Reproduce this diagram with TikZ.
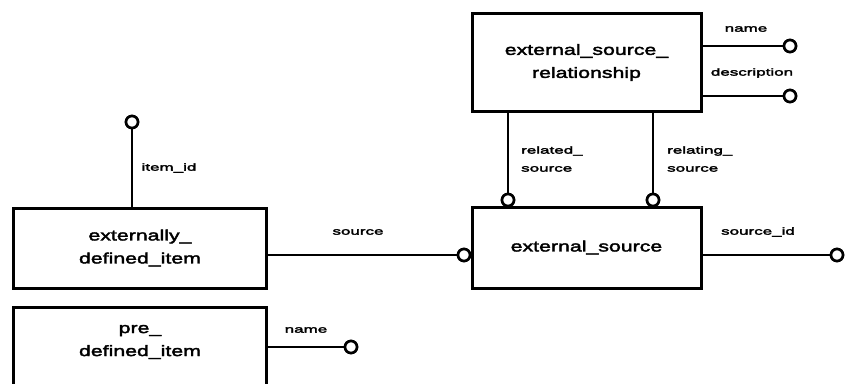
\documentclass[tikz,border=0pt]{standalone}
\usepackage{fontspec}
\setmainfont{Liberation Sans}
\newfontfamily\bxfont{Liberation Sans}[FakeStretch=1.42,FakeBold=2.5]
\newfontfamily\lbfont{Liberation Sans}[FakeStretch=1.7,FakeBold=3]
\begin{document}
\begin{tikzpicture}[x=1pt,y=-1pt,
  ent/.style={draw, line width=3pt, fill=white, inner sep=0pt, align=center,
    font=\bxfont\fontsize{15}{23}\selectfont},
  etext/.style={inner sep=0pt, align=center, font=\bxfont\fontsize{15}{23}\selectfont},
  conn/.style={line width=2.6pt},
  attr/.style={circle, draw, line width=2.6pt, fill=white, minimum size=12pt, inner sep=0pt},
  lbl/.style={inner sep=0pt, align=left, font=\lbfont\fontsize{10}{18}\selectfont}]
\clip (0,0) rectangle (845,383);
\fill[white] (0,0) rectangle (845,383);
% entities
\node[ent, minimum width=229pt, minimum height=98pt] (esr) at (586.5,62.5) {external\_source\_\\relationship};
\node[ent, minimum width=229pt, minimum height=81pt] (es) at (586.5,247.5) {external\_source};
\node[ent, minimum width=253pt, minimum height=80pt] (edi) at (140,248) {externally\_\\defined\_item};
\node[ent, minimum width=253pt, minimum height=110pt] (pdi) at (140,362) {};
\node[etext] (pdit) at (140,342) {pre\_\\defined\_item};
% attribute ends
\node[attr] (c1) at (790,46) {};
\node[attr] (c2) at (790,96) {};
\node[attr] (c3) at (508,200) {};
\node[attr] (c4) at (653,200) {};
\node[attr] (c5) at (837,255) {};
\node[attr] (c6) at (464,255) {};
\node[attr] (c7) at (132,122) {};
\node[attr] (c8) at (351,347) {};
% connectors
\draw[conn] (esr.east |- c1) -- (c1.west);
\draw[conn] (esr.east |- c2) -- (c2.west);
\draw[conn] (esr.south -| c3) -- (c3.north);
\draw[conn] (esr.south -| c4) -- (c4.north);
\draw[conn] (es.east |- c5) -- (c5.west);
\draw[conn] (edi.east |- c6) -- (c6.west);
\draw[conn] (edi.north -| c7) -- (c7.south);
\draw[conn] (pdi.east |- c8) -- (c8.west);
% redraw circles on top
\foreach \c in {c1,c2,c3,c4,c5,c6,c7,c8} {\node[attr] at (\c) {};}
% labels
\node[lbl] (l1) at (746,29) {name};
\node[lbl] (l2) at (752,73) {description};
\node[lbl, anchor=west] (l3) at (521,159) {related\_\\source};
\node[lbl, anchor=west] (l4) at (667,159) {relating\_\\source};
\node[lbl] (l5) at (758,232) {source\_id};
\node[lbl] (l6) at (358,232) {source};
\node[lbl] (l7) at (169,168) {item\_id};
\node[lbl] (l8) at (306,330) {name};
\end{tikzpicture}
\end{document}
